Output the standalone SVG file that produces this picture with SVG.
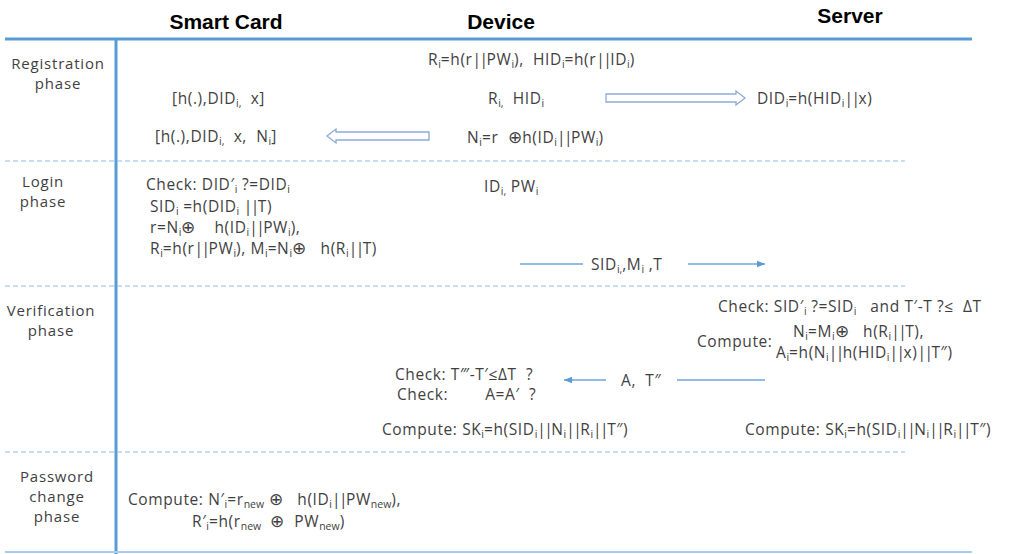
<svg xmlns="http://www.w3.org/2000/svg" width="1013" height="554" viewBox="0 0 1013 554">
<style>
text{font-family:"Open Sans","Noto Sans","Liberation Sans",sans-serif;font-size:15.5px;fill:#3f3f3f;letter-spacing:0.6px}
.h{font-family:"Liberation Sans","Noto Sans",sans-serif;font-weight:bold;font-size:21px;fill:#000;letter-spacing:0}
.p{font-size:15px;text-anchor:middle;letter-spacing:0.8px}
.s{font-size:10.5px;baseline-shift:-3px;letter-spacing:0}
.b{letter-spacing:-1.5px}
.x{font-size:17px}
.dash{stroke:#8fbbe6;stroke-width:1.2;stroke-dasharray:5 3;fill:none}
.msg{stroke:#6fa3d8;stroke-width:1.5;fill:none}
.hol{fill:#fff;stroke:#8eaad8;stroke-width:1.3}
</style>
<defs>
<marker id="ah" viewBox="0 0 10 10" refX="10" refY="5" markerWidth="8" markerHeight="8" markerUnits="userSpaceOnUse" orient="auto">
<path d="M0,1 L10,5 L0,9 z" fill="#5b9bd5"/>
</marker>
</defs>
<rect width="1013" height="554" fill="#fff"/>
<g id="headers">
<text class="h" x="226" y="29" text-anchor="middle">Smart Card</text>
<text class="h" x="501" y="29" text-anchor="middle">Device</text>
<text class="h" x="850" y="23" text-anchor="middle">Server</text>
</g>
<g id="frame">
<line x1="5" y1="39" x2="972" y2="39" stroke="#5b9bd5" stroke-width="3"/>
<line x1="116" y1="39" x2="116" y2="554" stroke="#5b9bd5" stroke-width="3"/>
<line class="dash" x1="5" y1="161" x2="905" y2="161"/>
<line class="dash" x1="5" y1="286" x2="905" y2="286"/>
<line class="dash" x1="5" y1="452" x2="905" y2="452"/>
<line x1="5" y1="552" x2="972" y2="552" stroke="#a9cdef" stroke-width="2"/>
</g>
<g id="phases">
<text class="p" x="58" y="69">Registration</text>
<text class="p" x="58" y="89">phase</text>
<text class="p" x="43" y="187">Login</text>
<text class="p" x="43" y="207">phase</text>
<text class="p" x="51" y="316">Verification</text>
<text class="p" x="51" y="336">phase</text>
<text class="p" x="57" y="482">Password</text>
<text class="p" x="57" y="502">change</text>
<text class="p" x="57" y="522">phase</text>
</g>
<g id="registration">
<text x="428" y="65">R<tspan class="s">i</tspan>=h(r<tspan class="b">||</tspan>PW<tspan class="s">i</tspan>),&#160; HID<tspan class="s">i</tspan>=h(r<tspan class="b">||</tspan>ID<tspan class="s">i</tspan>)</text>
<text x="172" y="104">[h(.),DID<tspan class="s">i,</tspan>&#160; x]</text>
<text x="488" y="104">R<tspan class="s">i,</tspan>&#160; HID<tspan class="s">i</tspan></text>
<text x="757" y="104">DID<tspan class="s">i</tspan>=h(HID<tspan class="s">i</tspan><tspan class="b">||</tspan>x)</text>
<text x="155" y="142">[h(.),DID<tspan class="s">i,</tspan>&#160; x,&#160; N<tspan class="s">i</tspan>]</text>
<text x="467" y="143">N<tspan class="s">i</tspan>=r&#160; <tspan class="x">⊕</tspan>h(ID<tspan class="s">i</tspan><tspan class="b">||</tspan>PW<tspan class="s">i</tspan>)</text>
</g>
<g id="login">
<text x="146" y="190">Check: DID′<tspan class="s">i</tspan> ?=DID<tspan class="s">i</tspan></text>
<text x="150" y="212">SID<tspan class="s">i</tspan> =h(DID<tspan class="s">i</tspan> <tspan class="b">||</tspan>T)</text>
<text x="150" y="233">r=N<tspan class="s">i</tspan><tspan class="x">⊕</tspan>&#160;&#160;&#160; h(ID<tspan class="s">i</tspan><tspan class="b">||</tspan>PW<tspan class="s">i</tspan>),</text>
<text x="150" y="254">R<tspan class="s">i</tspan>=h(r<tspan class="b">||</tspan>PW<tspan class="s">i</tspan>), M<tspan class="s">i</tspan>=N<tspan class="s">i</tspan><tspan class="x">⊕</tspan>&#160;&#160; h(R<tspan class="s">i</tspan><tspan class="b">||</tspan>T)</text>
<text x="484" y="192">ID<tspan class="s">i,</tspan> PW<tspan class="s">i</tspan></text>
<text x="591" y="270">SID<tspan class="s">i,</tspan>,M<tspan class="s">i</tspan> ,T</text>
</g>
<g id="verification">
<text x="718" y="312">Check: SID′<tspan class="s">i</tspan> ?=SID<tspan class="s">i</tspan>&#160;&#160; and T′-T ?≤&#160; ΔT</text>
<text x="697" y="347">Compute:</text>
<text x="793" y="337">N<tspan class="s">i</tspan>=M<tspan class="s">i</tspan><tspan class="x">⊕</tspan>&#160;&#160; h(R<tspan class="s">i</tspan><tspan class="b">||</tspan>T),</text>
<text x="776" y="358">A<tspan class="s">i</tspan>=h(N<tspan class="s">i</tspan><tspan class="b">||</tspan>h(HID<tspan class="s">i</tspan><tspan class="b">||</tspan>x)<tspan class="b">||</tspan>T″)</text>
<text x="395" y="380">Check: T‴-T′≤ΔT&#160; ?</text>
<text x="397" y="400">Check:&#160;&#160;&#160;&#160;&#160;&#160;&#160; A=A′&#160; ?</text>
<text x="621" y="386">A,&#160; T″</text>
<text x="382" y="435">Compute: SK<tspan class="s">i</tspan>=h(SID<tspan class="s">i</tspan><tspan class="b">||</tspan>N<tspan class="s">i</tspan><tspan class="b">||</tspan>R<tspan class="s">i</tspan><tspan class="b">||</tspan>T″)</text>
<text x="745" y="435">Compute: SK<tspan class="s">i</tspan>=h(SID<tspan class="s">i</tspan><tspan class="b">||</tspan>N<tspan class="s">i</tspan><tspan class="b">||</tspan>R<tspan class="s">i</tspan><tspan class="b">||</tspan>T″)</text>
</g>
<g id="password-change">
<text x="128" y="505">Compute: N′<tspan class="s">i</tspan>=r<tspan class="s">new</tspan> <tspan class="x">⊕</tspan>&#160;&#160; h(ID<tspan class="s">i</tspan><tspan class="b">||</tspan>PW<tspan class="s">new</tspan>),</text>
<text x="192" y="527">R′<tspan class="s">i</tspan>=h(r<tspan class="s">new</tspan>&#160; <tspan class="x">⊕</tspan>&#160; PW<tspan class="s">new</tspan>)</text>
</g>
<g id="connectors">
<path class="hol" d="M606,94 L736,94 L736,91 L745,98 L736,105 L736,102 L606,102 z"/>
<path class="hol" d="M429,132 L336,132 L336,129 L327,136 L336,143 L336,140 L429,140 z"/>
<line class="msg" x1="520" y1="264" x2="583" y2="264"/>
<line class="msg" x1="688" y1="264" x2="765" y2="264" marker-end="url(#ah)"/>
<line class="msg" x1="765" y1="380" x2="677" y2="380"/>
<line class="msg" x1="606" y1="380" x2="564" y2="380" marker-end="url(#ah)"/>
</g>
</svg>
